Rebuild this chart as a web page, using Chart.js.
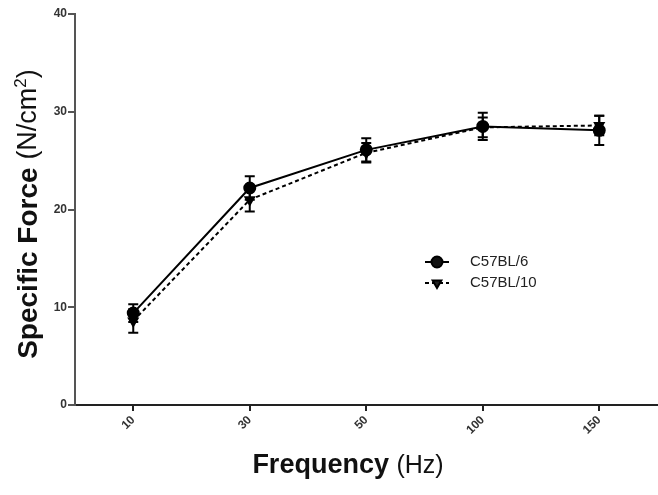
<!DOCTYPE html>
<html>
<head>
<meta charset="utf-8">
<script src="https://cdn.jsdelivr.net/npm/chart.js@4"></script>
<style>
  html, body { margin: 0; padding: 0; background: #fff; overflow: hidden; }
  /* 7px más ancho: el relleno de la última etiqueta girada queda fuera de la ventana */
  #wrap { width: 665px; height: 495px; }
</style>
</head>
<body>
<div id="wrap"><canvas id="myChart"></canvas></div>
<script>
// Frecuencias (eje x) y valores medios +/- error
const frequencies = ['10', '30', '50', '100', '150'];
const bl6 = [9.4, 22.2, 26.1, 28.5, 28.1];
const bl6Err = [0.9, 1.2, 1.2, 1.4, 1.5];
const bl10 = [8.6, 21.0, 25.8, 28.4, 28.6];
const bl10Err = [1.2, 1.2, 1.0, 1.0, 1.0];
const yTicks = [0, 10, 20, 30, 40];

// Barras de error dibujadas con las escalas del gráfico
const errorBars = {
    id: 'errorBars',
    afterDatasetsDraw(chart) {
        const ctx = chart.ctx;
        const y = chart.scales.y;
        chart.data.datasets.forEach((ds, i) => {
            const meta = chart.getDatasetMeta(i);
            ctx.save();
            ctx.strokeStyle = '#000';
            ctx.lineWidth = 2;
            ds.errors.forEach((e, j) => {
                const px = meta.data[j].x;
                const top = y.getPixelForValue(ds.data[j] + e);
                const bot = y.getPixelForValue(ds.data[j] - e);
                ctx.beginPath();
                ctx.moveTo(px, top); ctx.lineTo(px, bot);
                ctx.moveTo(px - 5, top); ctx.lineTo(px + 5, top);
                ctx.moveTo(px - 5, bot); ctx.lineTo(px + 5, bot);
                ctx.stroke();
            });
            ctx.restore();
        });
    }
};

// Títulos de ejes y leyenda
const decorations = {
    id: 'decorations',
    afterDraw(chart) {
        const ctx = chart.ctx;
        ctx.save();
        ctx.fillStyle = '#111';
        ctx.textBaseline = 'middle';

        // Título eje y
        ctx.save();
        ctx.translate(29, 214);
        ctx.rotate(-Math.PI / 2);
        const b = 'bold 28px Arial, "Liberation Sans", sans-serif';
        const r = '27px Arial, "Liberation Sans", sans-serif';
        const s = '17px Arial, "Liberation Sans", sans-serif';
        const parts = [['Specific Force ', b, 0], ['(N/cm', r, 0], ['2', s, -8], [')', r, 0]];
        let total = 0;
        parts.forEach(p => { ctx.font = p[1]; total += ctx.measureText(p[0]).width; });
        let cx = -total / 2;
        ctx.textAlign = 'left';
        parts.forEach(p => {
            ctx.font = p[1];
            ctx.fillText(p[0], cx, p[2]);
            cx += ctx.measureText(p[0]).width;
        });
        ctx.restore();

        // Título eje x
        const xb = 'bold 27px Arial, "Liberation Sans", sans-serif';
        const xr = '25px Arial, "Liberation Sans", sans-serif';
        ctx.font = xb; const w1 = ctx.measureText('Frequency ').width;
        ctx.font = xr; const w2 = ctx.measureText('(Hz)').width;
        let sx = 348 - (w1 + w2) / 2;
        ctx.textAlign = 'left';
        ctx.font = xb; ctx.fillText('Frequency ', sx, 466);
        ctx.font = xr; ctx.fillText('(Hz)', sx + w1, 466);

        // Leyenda
        ctx.font = '15px Arial, "Liberation Sans", sans-serif';
        chart.data.datasets.forEach((ds, i) => {
            const ly = 262 + i * 21;
            const lx = 437;
            ctx.strokeStyle = '#000';
            ctx.lineWidth = 2;
            ctx.setLineDash(ds.borderDash || []);
            ctx.beginPath();
            ctx.moveTo(lx - 12, ly); ctx.lineTo(lx + 12, ly);
            ctx.stroke();
            ctx.setLineDash([]);
            Chart.helpers.drawPoint(ctx, {
                pointStyle: ds.pointStyle, radius: ds.pointRadius,
                rotation: ds.pointRotation || 0, borderWidth: 1
            }, lx, ly);
            ctx.fillStyle = '#222';
            ctx.fillText(ds.label, 470, ly);
        });
        ctx.restore();
    }
};

const ctx = document.getElementById('myChart').getContext('2d');
new Chart(ctx, {
    type: 'line',
    data: {
        labels: frequencies,
        datasets: [
            {
                label: 'C57BL/6',
                data: bl6,
                errors: bl6Err,
                borderColor: '#000',
                backgroundColor: '#000',
                borderWidth: 2,
                pointStyle: 'circle',
                pointRadius: 5.5,
                fill: false,
                tension: 0
            },
            {
                label: 'C57BL/10',
                data: bl10,
                errors: bl10Err,
                borderColor: '#000',
                backgroundColor: '#000',
                borderWidth: 2,
                borderDash: [4, 3],
                pointStyle: 'triangle',
                pointRotation: 180,
                pointRadius: 5,
                fill: false,
                tension: 0
            }
        ]
    },
    options: {
        responsive: true,
        maintainAspectRatio: false,
        animation: false,
        devicePixelRatio: 1,
        layout: { padding: { top: 14, right: 0, left: 0, bottom: 0 } },
        plugins: {
            legend: { display: false },
            tooltip: { enabled: false }
        },
        scales: {
            x: {
                offset: true,
                grid: { display: true, drawOnChartArea: false, tickLength: 6, color: '#222', lineWidth: 2, offset: false },
                border: { color: '#222', width: 2 },
                ticks: {
                    minRotation: 45, maxRotation: 45,
                    color: '#333',
                    font: { family: 'Arial, "Liberation Sans"', size: 12, weight: 'bold' },
                    padding: 2
                },
                afterFit(scale) { scale.height = 90; }
            },
            y: {
                min: 0, max: 40,
                afterBuildTicks(scale) { scale.ticks = yTicks.map(v => ({ value: v })); },
                grid: { display: true, drawOnChartArea: false, tickLength: 7, color: '#555', lineWidth: 2 },
                border: { color: '#555', width: 2 },
                ticks: {
                    color: '#333',
                    font: { family: 'Arial, "Liberation Sans"', size: 12, weight: 'bold' },
                    padding: 1
                },
                afterFit(scale) { scale.width = 75; }
            }
        }
    },
    plugins: [errorBars, decorations]
});
</script>
</body>
</html>
